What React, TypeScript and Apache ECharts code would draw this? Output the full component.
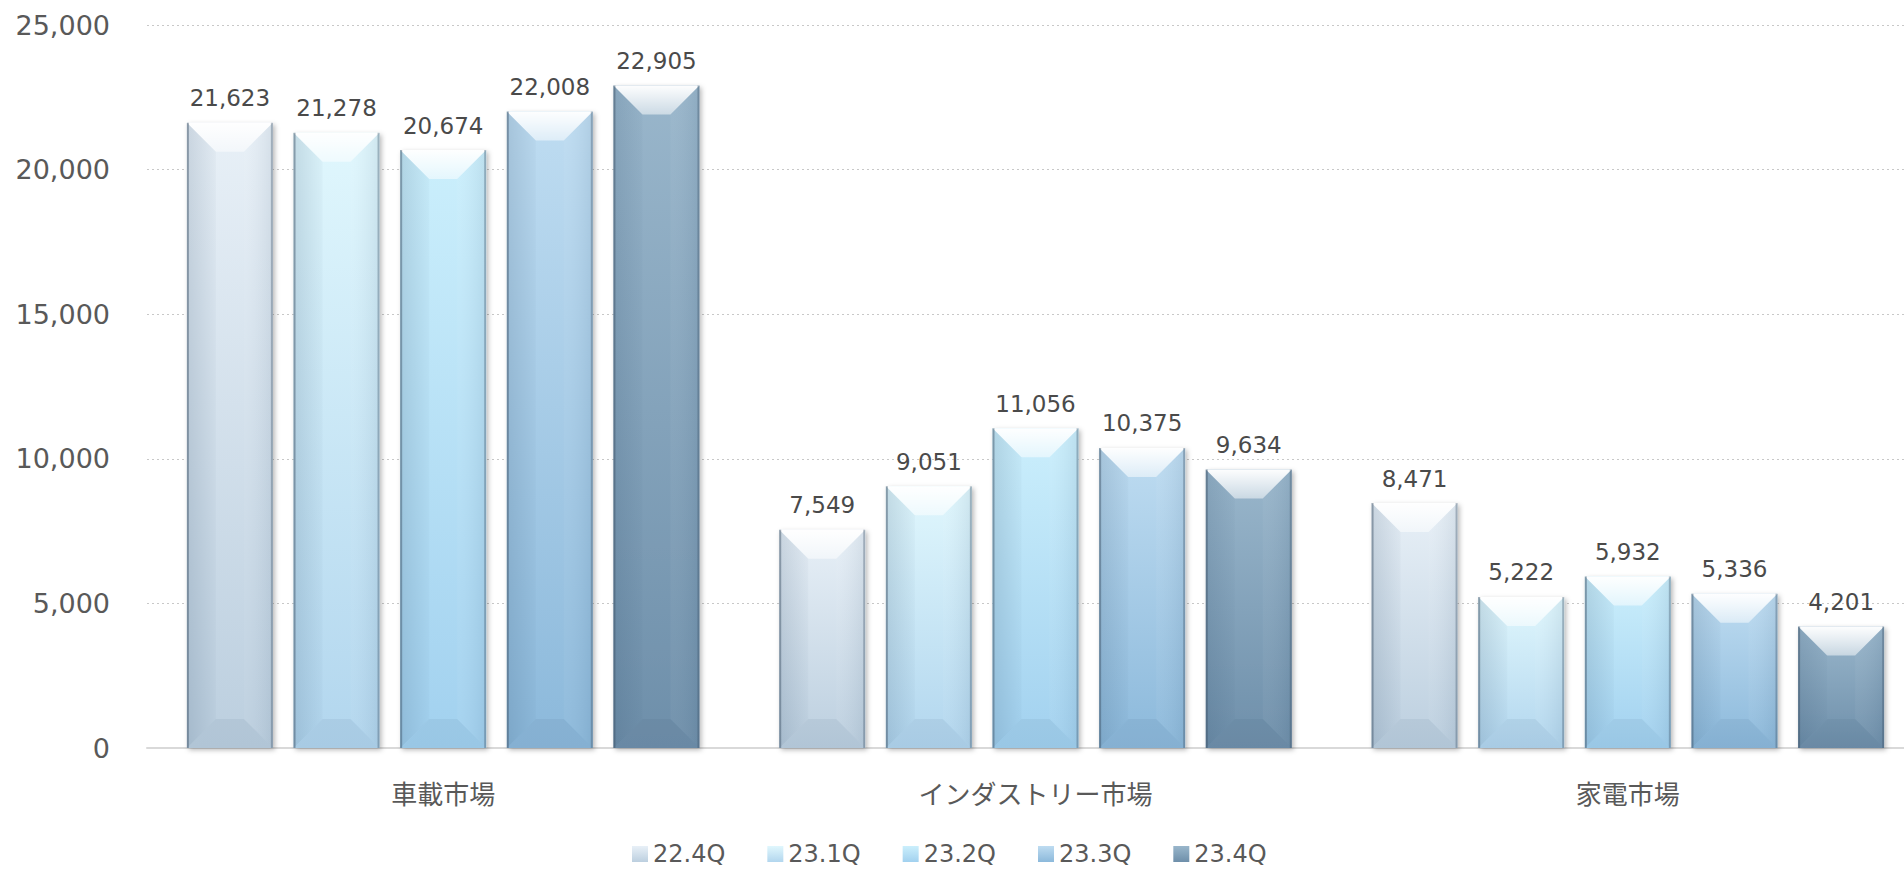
import React, { useEffect, useRef } from "react";
import * as echarts from "echarts";

const categories = ["車載市場", "インダストリー市場", "家電市場"];
const quarters = ["22.4Q", "23.1Q", "23.2Q", "23.3Q", "23.4Q"];
const q224 = [21623, 7549, 8471];
const q231 = [21278, 9051, 5222];
const q232 = [20674, 11056, 5932];
const q233 = [22008, 10375, 5336];
const q234 = [22905, 9634, 4201];
const seriesValues = [q224, q231, q232, q233, q234];
const yMin = 0;
const yMax = 25000;
const yInterval = 5000;

const faceColors = [
  ["#e8f0f7", "#bccfdf"],
  ["#e0f7fd", "#b2d6ee"],
  ["#cbeffc", "#a2d1ef"],
  ["#bedcf1", "#8cb9db"],
  ["#99b6cb", "#6e8faa"],
];

const BAR_W = 86;
const GAP_RATIO = 0.24;
const PITCH = BAR_W * (1 + GAP_RATIO);
const NUM_FONT = "'DejaVu Sans', 'Noto Sans CJK JP', sans-serif";
const fmt = (v: number) => Number(v).toLocaleString("en-US");

export default function App() {
  const ref = useRef<HTMLDivElement>(null);
  useEffect(() => {
    if (!ref.current) return;
    const chart = echarts.init(ref.current, null, { renderer: "svg" });

    const barSeries = quarters.map((q, i) => ({
      name: q,
      type: "bar",
      data: seriesValues[i],
      barWidth: BAR_W,
      barGap: `${GAP_RATIO * 100}%`,
      z: 2,
      itemStyle: {
        color: new echarts.graphic.LinearGradient(0, 0, 0, 1, [
          { offset: 0, color: faceColors[i][0] },
          { offset: 1, color: faceColors[i][1] },
        ]),
        shadowBlur: 5,
        shadowOffsetX: 2,
        shadowOffsetY: 2,
        shadowColor: "rgba(0,0,0,0.28)",
      },
      label: {
        show: true,
        position: "top",
        distance: 13,
        color: "#4a4a4a",
        fontSize: 23,
        fontFamily: NUM_FONT,
        formatter: (p: any) => fmt(p.value),
      },
    }));

    const bevelSeries = quarters.map((q, i) => ({
      name: q + "_bevel",
      type: "custom",
      silent: true,
      z: 3,
      data: seriesValues[i].map((v, c) => [c, v]),
      renderItem: (params: any, api: any) => {
        const c = api.value(0);
        const v = api.value(1);
        const topPt = api.coord([c, v]);
        const basePt = api.coord([c, 0]);
        const cx = topPt[0] + (i - 2) * PITCH;
        const x0 = cx - BAR_W / 2;
        const x1 = cx + BAR_W / 2;
        const y0 = topPt[1];
        const yb = basePt[1];
        const dx = 29;
        const dy = Math.min(29, (yb - y0) / 2);
        return {
          type: "group",
          children: [
            {
              type: "polygon",
              shape: { points: [[x0, y0], [x1, y0], [x1 - dx, y0 + dy], [x0 + dx, y0 + dy]] },
              style: {
                fill: new echarts.graphic.LinearGradient(0, 0, 0, 1, [
                  { offset: 0, color: "rgba(255,255,255,0.98)" },
                  { offset: 1, color: "rgba(255,255,255,0.5)" },
                ]),
              },
            },
            {
              type: "polygon",
              shape: { points: [[x0, y0], [x0 + dx, y0 + dy], [x0 + dx, yb - dy], [x0, yb]] },
              style: {
                fill: new echarts.graphic.LinearGradient(0, 0, 1, 0, [
                  { offset: 0, color: "rgba(40,70,100,0.16)" },
                  { offset: 1, color: "rgba(40,70,100,0.03)" },
                ]),
              },
            },
            {
              type: "polygon",
              shape: { points: [[x1, y0], [x1 - dx, y0 + dy], [x1 - dx, yb - dy], [x1, yb]] },
              style: {
                fill: new echarts.graphic.LinearGradient(1, 0, 0, 0, [
                  { offset: 0, color: "rgba(40,70,100,0.10)" },
                  { offset: 1, color: "rgba(255,255,255,0.04)" },
                ]),
              },
            },
            {
              type: "polygon",
              shape: { points: [[x0, yb], [x1, yb], [x1 - dx, yb - dy], [x0 + dx, yb - dy]] },
              style: { fill: "rgba(40,70,100,0.07)" },
            },
            {
              type: "line",
              shape: { x1: x0 + 1, y1: y0, x2: x0 + 1, y2: yb },
              style: { stroke: "rgba(60,80,100,0.45)", lineWidth: 2 },
            },
            {
              type: "line",
              shape: { x1: x1 - 1, y1: y0, x2: x1 - 1, y2: yb },
              style: { stroke: "rgba(60,80,100,0.35)", lineWidth: 2 },
            },
          ],
        };
      },
    }));

    chart.setOption({
      animation: false,
      backgroundColor: "#ffffff",
      grid: { left: 147, top: 25, width: 1777, height: 723, containLabel: false },
      legend: {
        data: quarters,
        top: 842,
        left: 632,
        padding: 0,
        itemWidth: 16,
        itemHeight: 16,
        itemGap: 42,
        icon: "rect",
        textStyle: {
          fontSize: 24,
          color: "#595959",
          fontFamily: NUM_FONT,
        },
      },
      xAxis: {
        type: "category",
        data: categories,
        axisLine: { show: true, lineStyle: { color: "#d9d9d9", width: 2 } },
        axisTick: { show: false },
        axisLabel: {
          margin: 31,
          fontSize: 26,
          color: "#595959",
          fontFamily: "'Noto Sans CJK JP', sans-serif",
        },
      },
      yAxis: {
        type: "value",
        min: yMin,
        max: yMax,
        interval: yInterval,
        axisLine: { show: false },
        axisTick: { show: false },
        axisLabel: {
          margin: 37,
          fontSize: 27,
          color: "#595959",
          fontFamily: NUM_FONT,
          formatter: (v: number) => fmt(v),
        },
        splitLine: { show: true, lineStyle: { color: "#c8c8c8", type: [2, 3], width: 1 } },
      },
      series: [...barSeries, ...bevelSeries],
    });
    return () => chart.dispose();
  }, []);
  return (
    <div
      style={{
        position: "fixed",
        left: 0,
        top: 0,
        width: 1904,
        height: 870,
        overflow: "hidden",
        background: "#fff",
      }}
    >
      <div ref={ref} style={{ width: 1940, height: 870 }} />
    </div>
  );
}
